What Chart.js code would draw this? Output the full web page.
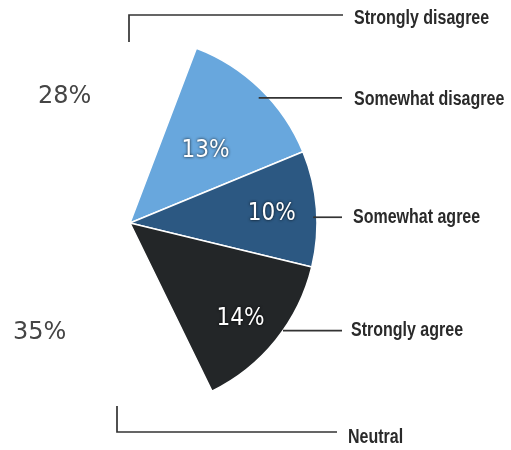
<!DOCTYPE html>
<html>
<head>
<meta charset="utf-8">
<script src="https://cdn.jsdelivr.net/npm/chart.js@4/dist/chart.umd.min.js"></script>
<style>
  html, body { margin: 0; padding: 0; background: #fff; }
  #wrap { width: 511px; height: 450px; position: relative; }
</style>
</head>
<body>
<div id="wrap"><canvas id="c" width="511" height="450"></canvas></div>
<script>
// Survey response shares (percent), in pie order
const categories = ['Strongly disagree', 'Somewhat disagree', 'Somewhat agree', 'Strongly agree', 'Neutral'];
const shares = [28, 13, 10, 14, 35];
const valueLabels = ['28%', '13%', '10%', '14%', '35%'];
// Only the three middle responses are drawn as filled wedges
const sliceColors = ['rgba(0,0,0,0)', '#68a7dd', '#2c5882', '#232628', 'rgba(0,0,0,0)'];

// Callouts: labels on the right with leader lines
const calloutPlugin = {
  id: 'callouts',
  afterDatasetsDraw(chart) {
    const ctx = chart.ctx;
    const arcs = chart.getDatasetMeta(0).data;
    const cx = arcs[0].x, cy = arcs[0].y;
    const R = arcs[0].outerRadius;
    const deg = Math.PI / 180;
    const pt = (ang, r) => [cx + Math.cos(ang) * r, cy + Math.sin(ang) * r];
    const mid = a => (a.startAngle + a.endAngle) / 2;

    ctx.save();
    // values inside the filled wedges
    ctx.fillStyle = '#ffffff';
    ctx.font = '24px "DejaVu Sans Condensed", "DejaVu Sans", sans-serif';
    ctx.textAlign = 'center';
    ctx.textBaseline = 'middle';
    ctx.shadowColor = 'rgba(0,0,0,0.9)';
    ctx.shadowBlur = 3;
    const inner = [[1, 2 * deg, 0.56], [2, 0.5 * deg, 0.76], [3, 2 * deg, 0.78]];
    inner.forEach(([i, da, f]) => {
      const [x, y] = pt(mid(arcs[i]) + da, R * f);
      ctx.fillText(valueLabels[i], x, y);
    });
    ctx.shadowBlur = 0;

    // values of the empty wedges, to the left
    ctx.fillStyle = '#454545';
    ctx.font = '24px "DejaVu Sans", sans-serif';
    ctx.textAlign = 'left';
    ctx.fillText(valueLabels[0], 38, 97);
    ctx.fillText(valueLabels[4], 13, 333);

    // leader lines
    ctx.strokeStyle = '#333333';
    ctx.lineWidth = 1.7;
    const toRight = (i, da, f, xEnd) => {
      const p = pt(mid(arcs[i]) + da * deg, R * f);
      return [p, [xEnd, p[1]]];
    };
    const lines = [
      [[cx - 1, 42], [cx - 1, 15], [343, 15]],
      toRight(1, 1.6, 0.96, 342),
      toRight(2, 2.6, 0.98, 342),
      toRight(3, -3.7, 1.0, 342),
      [[cx - 13, 406], [cx - 13, 432], [337, 432]]
    ];
    lines.forEach(seg => {
      ctx.beginPath();
      ctx.moveTo(seg[0][0], seg[0][1]);
      for (let k = 1; k < seg.length; k++) ctx.lineTo(seg[k][0], seg[k][1]);
      ctx.stroke();
    });

    // category names, in a narrow bold face
    ctx.fillStyle = '#2a2a2a';
    ctx.font = 'bold 20px "Liberation Sans", Arial, sans-serif';
    ctx.textBaseline = 'middle';
    const squeeze = 0.8;
    const ys = [18, lines[1][1][1] + 2, lines[2][1][1], lines[3][1][1], 437];
    const xs = [354, 354, 353, 351, 348];
    categories.forEach((c, i) => {
      ctx.save();
      ctx.translate(xs[i], ys[i]);
      ctx.scale(squeeze, 1);
      ctx.fillText(c, 0, 0);
      ctx.restore();
    });
    ctx.restore();
  }
};

new Chart(document.getElementById('c'), {
  type: 'pie',
  data: {
    labels: categories,
    datasets: [{
      data: shares,
      backgroundColor: sliceColors,
      borderColor: ['rgba(0,0,0,0)', '#ffffff', '#ffffff', '#ffffff', 'rgba(0,0,0,0)'],
      borderWidth: 1.5,
      clip: false
    }]
  },
  options: {
    responsive: false,
    animation: false,
    rotation: -80,
    radius: 187,
    layout: { padding: { left: 0, top: 38, right: 251, bottom: 42 } },
    plugins: {
      legend: { display: false },
      tooltip: { enabled: false }
    }
  },
  plugins: [calloutPlugin]
});
</script>
</body>
</html>
